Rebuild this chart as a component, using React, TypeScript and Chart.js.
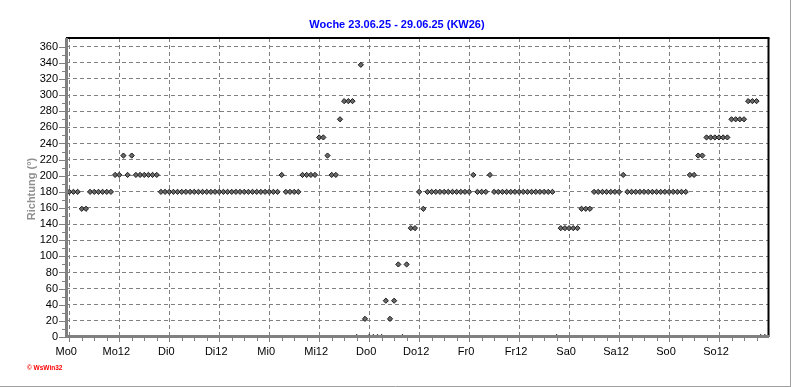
import React, { useEffect, useRef } from "react";
import { Chart, registerables } from "chart.js";

Chart.register(...registerables);

// ---- data (hourly wind direction, degrees) ----
const TITLE = "Woche 23.06.25 - 29.06.25 (KW26)";
const Y_TITLE = "Richtung (°)";
const WATERMARK = "© WsWin32";
const X_LABELS = ["Mo0", "Mo12", "Di0", "Di12", "Mi0", "Mi12", "Do0", "Do12", "Fr0", "Fr12", "Sa0", "Sa12", "So0", "So12"];
const Y_TICKS = [0, 20, 40, 60, 80, 100, 120, 140, 160, 180, 200, 220, 240, 260, 280, 300, 320, 340, 360];

const MONDAY = [180, 180, 180, 159, 159, 180, 180, 180, 180, 180, 180, 201, 201, 225, 201, 225, 201, 201, 201, 201, 201, 201, 180, 180];
const TUESDAY = [180, 180, 180, 180, 180, 180, 180, 180, 180, 180, 180, 180, 180, 180, 180, 180, 180, 180, 180, 180, 180, 180, 180, 180];
const WEDNESDAY = [180, 180, 180, 201, 180, 180, 180, 180, 201, 201, 201, 201, 247.5, 247.5, 225, 201, 201, 270, 292.5, 292.5, 292.5, 0, 337.5, 22.5];
const THURSDAY = [0, 0, 0, 0, 45, 22.5, 45, 90, 0, 90, 135, 135, 180, 159, 180, 180, 180, 180, 180, 180, 180, 180, 180, 180];
const FRIDAY = [180, 201, 180, 180, 180, 201, 180, 180, 180, 180, 180, 180, 180, 180, 180, 180, 180, 180, 180, 180, 180, 0, 135, 135];
const SATURDAY = [135, 135, 135, 159, 159, 159, 180, 180, 180, 180, 180, 180, 180, 201, 180, 180, 180, 180, 180, 180, 180, 180, 180, 180];
const SUNDAY = [180, 180, 180, 180, 180, 201, 201, 225, 225, 247.5, 247.5, 247.5, 247.5, 247.5, 247.5, 270, 270, 270, 270, 292.5, 292.5, 292.5, 0, 0];

const X_MIN = -0.79;
const X_MAX = 168;
const Y_MAX = 370.8;

const FONT = "'Liberation Sans', Arial, sans-serif";

export default function App() {
  const ref = useRef<HTMLCanvasElement>(null);

  useEffect(() => {
    const canvas = ref.current;
    if (!canvas) return;
    const values = [...MONDAY, ...TUESDAY, ...WEDNESDAY, ...THURSDAY, ...FRIDAY, ...SATURDAY, ...SUNDAY];
    const points = values.map((v, i) => ({ x: i, y: v }));

    const decor = {
      id: "decor",
      beforeDraw(chart: any) {
        const { ctx } = chart;
        ctx.save();
        ctx.fillStyle = "#ffffff";
        ctx.fillRect(0, 0, chart.width, chart.height);
        ctx.restore();
      },
      afterDatasetsDraw(chart: any) {
        const { ctx, chartArea: a, scales } = chart;
        const xs = scales.x;
        const ys = scales.y;
        const line = (x1: number, y1: number, x2: number, y2: number) => {
          ctx.beginPath();
          ctx.moveTo(x1, y1);
          ctx.lineTo(x2, y2);
          ctx.stroke();
        };
        ctx.save();
        ctx.setLineDash([]);
        // top & right borders (black)
        ctx.strokeStyle = "#000000";
        ctx.lineWidth = 2;
        line(a.left, a.top, a.right + 0.5, a.top);
        line(a.right - 0.5, a.top, a.right - 0.5, a.bottom);
        // axis lines (gray, thick)
        ctx.strokeStyle = "#808080";
        ctx.lineWidth = 3;
        line(a.left - 1, a.bottom - 0.5, a.right, a.bottom - 0.5);
        line(a.left + 0.5, a.top, a.left + 0.5, a.bottom + 1);
        // tick marks
        ctx.lineWidth = 1;
        for (let v = 0; v <= 360; v += 10) {
          const y = Math.round(ys.getPixelForValue(v)) + 0.5;
          const len = v % 20 === 0 ? 6 : 3;
          line(a.left - 1 - len, y, a.left - 1, y);
        }
        for (let h = 0; h < X_MAX; h += 3) {
          const x = Math.round(xs.getPixelForValue(h)) + 0.5;
          const len = h % 12 === 0 ? 4 : 3;
          line(x, a.bottom + 1, x, a.bottom + 1 + len);
          if (h % 12 === 0) line(x, a.top + 1, x, a.top + 4);
        }
        // outer frame (right & bottom)
        ctx.strokeStyle = "#a0a0a0";
        line(790.5, 0, 790.5, 387);
        line(0, 386.5, 791, 386.5);
        // title
        ctx.fillStyle = "#0000ff";
        ctx.font = `bold 11px ${FONT}`;
        ctx.textAlign = "center";
        ctx.textBaseline = "alphabetic";
        ctx.fillText(TITLE, 397, 28);
        // y axis title
        ctx.save();
        ctx.translate(35, 189);
        ctx.rotate(-Math.PI / 2);
        ctx.fillStyle = "#909090";
        ctx.font = `bold 11px ${FONT}`;
        ctx.textAlign = "center";
        ctx.fillText(Y_TITLE, 0, 0);
        ctx.restore();
        // watermark
        ctx.fillStyle = "#ff0000";
        ctx.font = `bold 6.5px ${FONT}`;
        ctx.textAlign = "left";
        ctx.fillText(WATERMARK, 27, 370);
        ctx.restore();
      },
    };

    const chart = new Chart(canvas, {
      type: "scatter",
      data: {
        datasets: [
          {
            data: points,
            pointStyle: "rectRot",
            pointRadius: 2.6,
            pointHoverRadius: 2.6,
            pointBackgroundColor: "#6a6a6a",
            pointBorderColor: "#1a1a1a",
            pointBorderWidth: 1,
            showLine: false,
            clip: { left: 6, right: 6, top: 6, bottom: 0 },
          } as any,
        ],
      },
      options: {
        responsive: false,
        animation: false,
        devicePixelRatio: 1,
        events: [],
        layout: { padding: { top: 38, right: 23, left: 0, bottom: 0 } },
        plugins: {
          legend: { display: false },
          tooltip: { enabled: false },
          title: { display: false },
        },
        scales: {
          x: {
            type: "linear",
            min: X_MIN,
            max: X_MAX,
            afterBuildTicks: (s: any) => {
              s.ticks = X_LABELS.map((_, i) => ({ value: i * 12 }));
            },
            afterFit: (s: any) => {
              s.height = 50;
            },
            grid: { color: "#808080", lineWidth: 1, drawTicks: false },
            border: { display: false, dash: [4, 3] },
            ticks: {
              padding: 8,
              labelOffset: -3,
              color: "#000000",
              font: { family: FONT, size: 11 },
              maxRotation: 0,
              autoSkip: false,
              callback: (v: any) => X_LABELS[Math.round(Number(v) / 12)] ?? "",
            },
          },
          y: {
            type: "linear",
            min: 0,
            max: Y_MAX,
            afterBuildTicks: (s: any) => {
              s.ticks = Y_TICKS.map((v) => ({ value: v }));
            },
            afterFit: (s: any) => {
              s.width = 66;
            },
            grid: { color: "#808080", lineWidth: 1, drawTicks: false },
            border: { display: false, dash: [4, 3] },
            ticks: {
              padding: 8,
              color: "#000000",
              font: { family: FONT, size: 11 },
              autoSkip: false,
              callback: (v: any) => String(v),
            },
          },
        },
      } as any,
      plugins: [decor],
    });

    return () => chart.destroy();
  }, []);

  return (
    <div style={{ position: "fixed", left: 0, top: 0, width: 792, height: 387, background: "#fff" }}>
      <canvas ref={ref} width={792} height={387} style={{ width: 792, height: 387, display: "block" }} />
    </div>
  );
}
